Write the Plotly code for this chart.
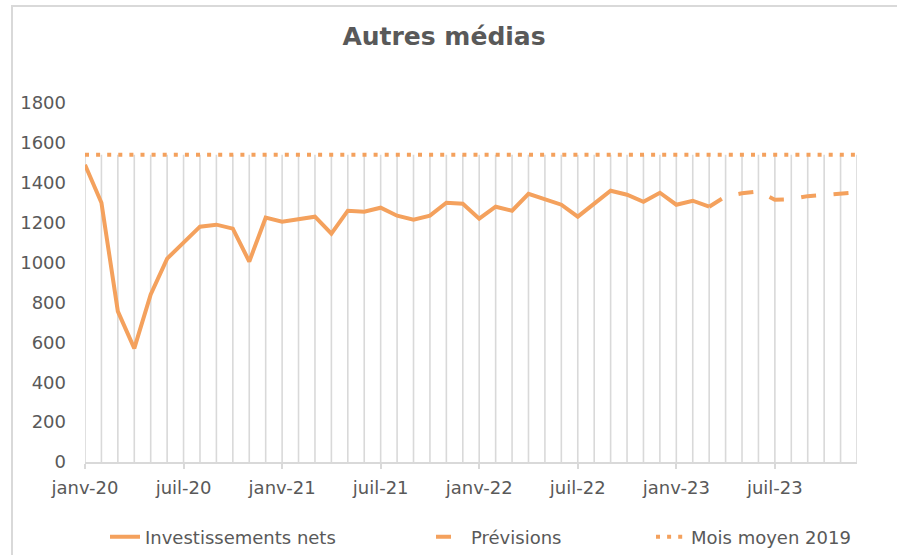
import plotly.graph_objects as go

# ---- data ----
mois = ["janv", "févr", "mars", "avr", "mai", "juin", "juil", "août", "sept", "oct", "nov", "déc"]
annees = ["20", "21", "22", "23"]
categories = [f"{m}-{a}" for a in annees for m in mois]

investissements_nets = [
    1490, 1300, 755, 570, 840, 1020, 1100, 1180, 1190, 1170, 1005, 1225,
    1205, 1215, 1230, 1145, 1260, 1255, 1275, 1235, 1215, 1235, 1300, 1295,
    1220, 1280, 1260, 1345, 1320, 1290, 1230, 1295, 1360, 1340, 1305, 1350,
    1290, 1310, 1280,
]
previsions_cats = categories[38:]
previsions = [1280, 1332, 1347, 1356, 1315, 1318, 1333, 1340, 1348, 1352]
mois_moyen_2019 = [1540] * len(categories)

tick_labels = ["janv-20", "juil-20", "janv-21", "juil-21", "janv-22", "juil-22", "janv-23", "juil-23"]
y_ticks = [0, 200, 400, 600, 800, 1000, 1200, 1400, 1600, 1800]

# ---- style ----
ORANGE = "#F4A15D"
GRID = "#D9D9D9"
TXT = "#595959"
FONT = "DejaVu Sans"

W, H = 897, 555
ML, MR, MT, MB = 85, 40, 103, 93
PW = W - ML - MR
PH = H - MT - MB


def px_x(x):
    return (x - ML) / PW


def px_y(y):
    return (H - MB - y) / PH


fig = go.Figure()

# drop lines from the 2019 average down to the axis
fig.add_trace(go.Scatter(
    x=categories, y=mois_moyen_2019, mode="markers",
    marker=dict(size=1, opacity=0),
    error_y=dict(type="data", symmetric=False, array=[0] * len(mois_moyen_2019),
                 arrayminus=mois_moyen_2019, color=GRID, thickness=1.6, width=0),
    showlegend=False, hoverinfo="skip",
))

fig.add_trace(go.Scatter(
    x=categories, y=mois_moyen_2019, mode="lines", name="Mois moyen 2019",
    line=dict(color=ORANGE, width=4, dash="4px,7.1px"), legend="legend3",
))
fig.add_trace(go.Scatter(
    x=previsions_cats, y=previsions, mode="lines", name="Prévisions",
    line=dict(color=ORANGE, width=4, dash="15px,17.5px"), legend="legend2",
))
fig.add_trace(go.Scatter(
    x=categories[:len(investissements_nets)], y=investissements_nets, mode="lines",
    name="Investissements nets", line=dict(color=ORANGE, width=4), legend="legend",
))

leg_common = dict(orientation="h", yanchor="middle", xanchor="left",
                  xref="container", yref="container",
                  font=dict(family=FONT, size=18, color=TXT), bgcolor="rgba(0,0,0,0)")

fig.update_layout(
    width=W, height=H,
    margin=dict(l=ML, r=MR, t=MT, b=MB, autoexpand=False),
    paper_bgcolor="white", plot_bgcolor="white",
    font=dict(family=FONT, color=TXT),
    title=dict(text="<b>Autres médias</b>", x=444 / W, xanchor="center",
               y=1 - 36 / H, yanchor="middle", yref="container",
               font=dict(family=FONT, size=25, color=TXT)),
    legend=dict(x=105 / W, y=1 - 537 / H, **leg_common),
    legend2=dict(x=431 / W, y=1 - 537 / H, **leg_common),
    legend3=dict(x=651 / W, y=1 - 537 / H, **leg_common),
    xaxis=dict(
        type="category", categoryorder="array", categoryarray=categories,
        range=[0, len(categories) - 1],
        tickmode="array", tickvals=tick_labels, ticktext=tick_labels,
        showgrid=False, zeroline=False,
        showline=True, linecolor=GRID, linewidth=1.5,
        ticks="outside", ticklen=5, tickwidth=1.5, tickcolor=GRID,
        tickfont=dict(family=FONT, size=18, color=TXT),
        ticklabelstandoff=4,
    ),
    yaxis=dict(
        range=[0, 1800], tickmode="array", tickvals=y_ticks,
        showgrid=False, zeroline=False, showline=False,
        tickfont=dict(family=FONT, size=18, color=TXT),
        ticklabelstandoff=18,
    ),
    shapes=[dict(type="rect", xref="paper", yref="paper",
                 x0=px_x(12), x1=px_x(W + 20), y0=px_y(H + 20), y1=px_y(6),
                 line=dict(color=GRID, width=2), fillcolor="rgba(0,0,0,0)", layer="below")],
)

fig.write_html(
    "out.html",
    config={"displayModeBar": False},
    post_script="document.body.style.margin='0';document.body.style.overflow='hidden';",
)
